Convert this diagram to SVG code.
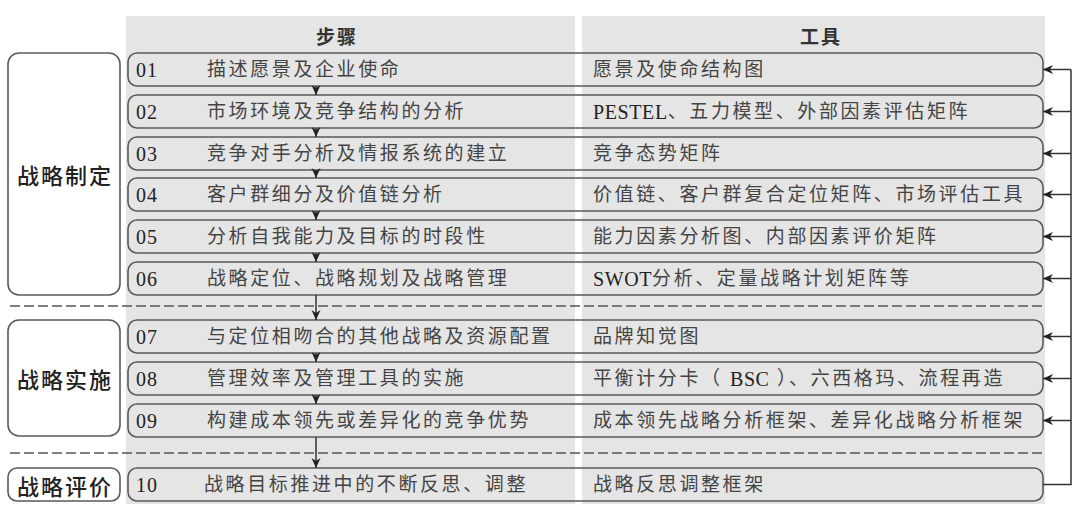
<svg xmlns="http://www.w3.org/2000/svg" width="1080" height="515" viewBox="0 0 1080 515">
<style>
.bg{fill:#e5e5e5}
.row{fill:none;stroke:#5a5a5a;stroke-width:1.6}
.grp{fill:#fff;stroke:#5a5a5a;stroke-width:1.6}
.dash{stroke:#555;stroke-width:1.6;stroke-dasharray:10 4;fill:none}
.con{stroke:#333;stroke-width:1.5;fill:none}
.num{font-family:'Liberation Serif','Noto Sans CJK SC',serif;font-size:20px;fill:#222;letter-spacing:1px}
.txt{font-family:'Liberation Serif','Noto Sans CJK SC',serif;font-size:19px;fill:#444;letter-spacing:2.6px}
.lat{letter-spacing:0.6px;fill:#222;font-size:20px}
.hd{font-family:'Noto Sans CJK SC',sans-serif;font-size:19px;font-weight:bold;fill:#333;letter-spacing:2px}
.lbl{font-family:'Noto Sans CJK SC',sans-serif;font-size:22px;font-weight:500;fill:#222;letter-spacing:2px}
</style>
<defs>
<marker id="ah" viewBox="0 0 10 10" refX="10" refY="5" markerWidth="11" markerHeight="10" markerUnits="userSpaceOnUse" orient="auto">
<path d="M0,0.5 L10,5 L0,9.5 L3,5 z" fill="#222"/>
</marker>
</defs>
<rect class="bg" x="126" y="16" width="449" height="488"/>
<rect class="bg" x="582" y="16" width="463" height="488"/>
<text class="hd" x="337" y="35" text-anchor="middle" dominant-baseline="central">步骤</text>
<text class="hd" x="821" y="35" text-anchor="middle" dominant-baseline="central">工具</text>
<g id="phase-formulate"><rect class="grp" x="8" y="53" width="112" height="242" rx="11"/><text class="lbl" x="65" y="174" text-anchor="middle" dominant-baseline="central">战略制定</text></g>
<g id="phase-implement"><rect class="grp" x="8" y="320" width="112" height="116" rx="11"/><text class="lbl" x="65" y="378" text-anchor="middle" dominant-baseline="central">战略实施</text></g>
<g id="phase-evaluate"><rect class="grp" x="8" y="468" width="112" height="33" rx="9"/><text class="lbl" x="65" y="484.5" text-anchor="middle" dominant-baseline="central">战略评价</text></g>
<line class="dash" x1="10" y1="306" x2="1045" y2="306"/>
<line class="dash" x1="10" y1="453" x2="1045" y2="453"/>
<g id="step01"><rect class="row" x="128" y="53" width="915" height="33" rx="9"/><text class="num" x="136" y="69.5" dominant-baseline="central">01</text><text class="txt" x="207" y="69.5" dominant-baseline="central">描述愿景及企业使命</text><text class="txt" x="593" y="69.5" dominant-baseline="central">愿景及使命结构图</text></g>
<g id="step02"><rect class="row" x="128" y="95" width="915" height="33" rx="9"/><text class="num" x="136" y="111.5" dominant-baseline="central">02</text><text class="txt" x="207" y="111.5" dominant-baseline="central">市场环境及竞争结构的分析</text><text class="txt" x="593" y="111.5" dominant-baseline="central"><tspan class="lat">PESTEL</tspan>、五力模型、外部因素评估矩阵</text></g>
<g id="step03"><rect class="row" x="128" y="137" width="915" height="33" rx="9"/><text class="num" x="136" y="153.5" dominant-baseline="central">03</text><text class="txt" x="207" y="153.5" dominant-baseline="central">竞争对手分析及情报系统的建立</text><text class="txt" x="593" y="153.5" dominant-baseline="central">竞争态势矩阵</text></g>
<g id="step04"><rect class="row" x="128" y="178" width="915" height="33" rx="9"/><text class="num" x="136" y="194.5" dominant-baseline="central">04</text><text class="txt" x="207" y="194.5" dominant-baseline="central">客户群细分及价值链分析</text><text class="txt" x="593" y="194.5" dominant-baseline="central">价值链、客户群复合定位矩阵、市场评估工具</text></g>
<g id="step05"><rect class="row" x="128" y="220" width="915" height="33" rx="9"/><text class="num" x="136" y="236.5" dominant-baseline="central">05</text><text class="txt" x="207" y="236.5" dominant-baseline="central">分析自我能力及目标的时段性</text><text class="txt" x="593" y="236.5" dominant-baseline="central">能力因素分析图、内部因素评价矩阵</text></g>
<g id="step06"><rect class="row" x="128" y="262" width="915" height="33" rx="9"/><text class="num" x="136" y="278.5" dominant-baseline="central">06</text><text class="txt" x="207" y="278.5" dominant-baseline="central">战略定位、战略规划及战略管理</text><text class="txt" x="593" y="278.5" dominant-baseline="central"><tspan class="lat">SWOT</tspan>分析、定量战略计划矩阵等</text></g>
<g id="step07"><rect class="row" x="128" y="320" width="915" height="33" rx="9"/><text class="num" x="136" y="336.5" dominant-baseline="central">07</text><text class="txt" x="207" y="336.5" dominant-baseline="central">与定位相吻合的其他战略及资源配置</text><text class="txt" x="593" y="336.5" dominant-baseline="central">品牌知觉图</text></g>
<g id="step08"><rect class="row" x="128" y="362" width="915" height="33" rx="9"/><text class="num" x="136" y="378.5" dominant-baseline="central">08</text><text class="txt" x="207" y="378.5" dominant-baseline="central">管理效率及管理工具的实施</text><text class="txt" x="593" y="378.5" dominant-baseline="central">平衡计分卡（ <tspan class="lat">BSC</tspan> ）、六西格玛、流程再造</text></g>
<g id="step09"><rect class="row" x="128" y="404" width="915" height="33" rx="9"/><text class="num" x="136" y="420.5" dominant-baseline="central">09</text><text class="txt" x="207" y="420.5" dominant-baseline="central">构建成本领先或差异化的竞争优势</text><text class="txt" x="593" y="420.5" dominant-baseline="central">成本领先战略分析框架、差异化战略分析框架</text></g>
<g id="step10"><rect class="row" x="128" y="468" width="915" height="33" rx="9"/><text class="num" x="136" y="484.5" dominant-baseline="central">10</text><text class="txt" x="204" y="484.5" dominant-baseline="central">战略目标推进中的不断反思、调整</text><text class="txt" x="593" y="484.5" dominant-baseline="central">战略反思调整框架</text></g>
<g id="connectors">
<line class="con" x1="316" y1="86" x2="316" y2="95" marker-end="url(#ah)"/>
<line class="con" x1="316" y1="128" x2="316" y2="137" marker-end="url(#ah)"/>
<line class="con" x1="316" y1="170" x2="316" y2="178" marker-end="url(#ah)"/>
<line class="con" x1="316" y1="211" x2="316" y2="220" marker-end="url(#ah)"/>
<line class="con" x1="316" y1="253" x2="316" y2="262" marker-end="url(#ah)"/>
<line class="con" x1="316" y1="295" x2="316" y2="320" marker-end="url(#ah)"/>
<line class="con" x1="316" y1="353" x2="316" y2="362" marker-end="url(#ah)"/>
<line class="con" x1="316" y1="395" x2="316" y2="404" marker-end="url(#ah)"/>
<line class="con" x1="316" y1="437" x2="316" y2="468" marker-end="url(#ah)"/>
<path class="con" d="M1043,484.5 H1071 V69.5"/>
<line class="con" x1="1071" y1="69.5" x2="1043" y2="69.5" marker-end="url(#ah)"/>
<line class="con" x1="1071" y1="111.5" x2="1043" y2="111.5" marker-end="url(#ah)"/>
<line class="con" x1="1071" y1="153.5" x2="1043" y2="153.5" marker-end="url(#ah)"/>
<line class="con" x1="1071" y1="194.5" x2="1043" y2="194.5" marker-end="url(#ah)"/>
<line class="con" x1="1071" y1="236.5" x2="1043" y2="236.5" marker-end="url(#ah)"/>
<line class="con" x1="1071" y1="278.5" x2="1043" y2="278.5" marker-end="url(#ah)"/>
<line class="con" x1="1071" y1="336.5" x2="1043" y2="336.5" marker-end="url(#ah)"/>
<line class="con" x1="1071" y1="378.5" x2="1043" y2="378.5" marker-end="url(#ah)"/>
<line class="con" x1="1071" y1="420.5" x2="1043" y2="420.5" marker-end="url(#ah)"/>
</g>
</svg>
